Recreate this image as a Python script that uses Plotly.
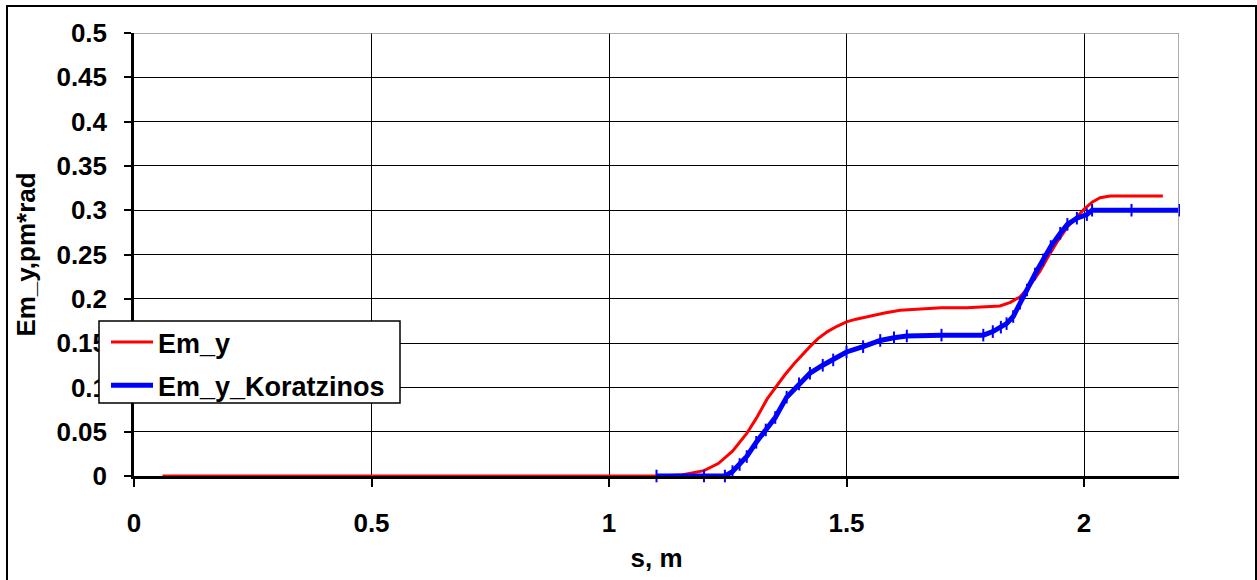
import plotly.graph_objects as go

# Emittance growth along the beamline
s_em = [0.06, 0.5, 1.0, 1.1, 1.15, 1.2, 1.23, 1.26, 1.29, 1.31, 1.333, 1.35, 1.37, 1.39,
        1.41, 1.423, 1.44, 1.46, 1.48, 1.5, 1.52, 1.543, 1.58, 1.613, 1.66, 1.70, 1.753,
        1.78, 1.823, 1.845, 1.865, 1.885, 1.907, 1.925, 1.943, 1.965, 1.985, 2.0, 2.017,
        2.034, 2.055, 2.08, 2.12, 2.166]
em_y = [0, 0, 0, 0, 0.001, 0.006, 0.014, 0.028, 0.048, 0.065, 0.087, 0.100, 0.114, 0.127,
        0.139, 0.146, 0.155, 0.163, 0.169, 0.174, 0.177, 0.180, 0.184, 0.187, 0.189, 0.190,
        0.190, 0.191, 0.192, 0.196, 0.202, 0.214, 0.231, 0.248, 0.264, 0.281, 0.293, 0.301,
        0.309, 0.314, 0.316, 0.316, 0.316, 0.316]

s_kor = [1.10, 1.20, 1.244, 1.26, 1.275, 1.29, 1.31, 1.33, 1.35, 1.374, 1.40, 1.423,
         1.45, 1.472, 1.5, 1.535, 1.571, 1.60, 1.627, 1.70, 1.788, 1.808, 1.825, 1.837,
         1.851, 1.865, 1.88, 1.897, 1.914, 1.93, 1.95, 1.965, 1.985, 2.006, 2.017,
         2.10, 2.2]
em_y_kor = [0, 0, 0, 0.005, 0.013, 0.022, 0.038, 0.052, 0.066, 0.089, 0.104, 0.116,
            0.125, 0.131, 0.140, 0.146, 0.153, 0.156, 0.158, 0.159, 0.159, 0.163, 0.168,
            0.172, 0.180, 0.195, 0.210, 0.228, 0.244, 0.259, 0.274, 0.284, 0.291, 0.295,
            0.300, 0.300, 0.300]

x_ticks = [0, 0.5, 1, 1.5, 2]
x_labels = ["0", "0.5", "1", "1.5", "2"]
y_ticks = [0, 0.05, 0.1, 0.15, 0.2, 0.25, 0.3, 0.35, 0.4, 0.45, 0.5]
y_labels = ["0", "0.05", "0.1", "0.15", "0.2", "0.25", "0.3", "0.35", "0.4", "0.45", "0.5"]

FONT = "Liberation Sans, Arial, sans-serif"
BOLD = dict(family=FONT, size=26, color="black", weight="bold")
LEG = dict(family=FONT, size=27, color="black", weight="bold")

# plot-area geometry in pixels, used to place the legend frame and outer border
L, R, T, B = 134, 1179, 33, 476
W, H = R - L, B - T


def px(xp):
    return (xp - L) / W


def py(yp):
    return (B - yp) / H


fig = go.Figure()
fig.add_trace(go.Scatter(
    x=s_em, y=em_y, name="Em_y", mode="lines", legendgroup="a",
    line=dict(color="#ff0000", width=3), cliponaxis=False,
))
fig.add_trace(go.Scatter(
    x=s_kor, y=em_y_kor, name="Em_y_Koratzinos", mode="lines", legendgroup="b",
    line=dict(color="#0000ff", width=5), cliponaxis=False,
))
# small dash markers along the Koratzinos curve
fig.add_trace(go.Scatter(
    x=s_kor, y=em_y_kor, mode="markers", showlegend=False, hoverinfo="skip",
    marker=dict(symbol="line-ns", size=9, color="#0000ff",
                line=dict(color="#0000ff", width=2)),
    cliponaxis=False,
))

fig.update_layout(
    width=1257, height=580,
    margin=dict(l=L, r=1257 - R, t=T, b=580 - B),
    paper_bgcolor="white", plot_bgcolor="white",
    font=BOLD,
    showlegend=True,
    legend=dict(
        x=px(106), y=py(318), xanchor="left", yanchor="top",
        bgcolor="rgba(0,0,0,0)", borderwidth=0,
        font=LEG, itemwidth=42, tracegroupgap=5, traceorder="grouped",
    ),
    xaxis=dict(
        range=[0, 2.2], tickvals=x_ticks, ticktext=x_labels, automargin=False,
        showgrid=True, gridcolor="black", gridwidth=1,
        showline=True, linecolor="black", linewidth=2.5, mirror=False,
        ticks="outside", ticklen=8, tickwidth=2, tickcolor="black",
        tickfont=BOLD, ticklabelstandoff=14,
        title=dict(text="s, m", standoff=12, font=BOLD),
        zeroline=False,
    ),
    yaxis=dict(
        range=[0, 0.5], tickvals=y_ticks, ticktext=y_labels, automargin=False,
        showgrid=True, gridcolor="black", gridwidth=1,
        showline=True, linecolor="black", linewidth=2.5, mirror=False,
        ticks="outside", ticklen=7, tickwidth=2, tickcolor="black",
        tickfont=BOLD, ticklabelstandoff=12,
        title=dict(text="Em_y,pm*rad", standoff=14, font=BOLD),
        zeroline=False,
    ),
    shapes=[
        # grey frame on the top and right of the plot area
        dict(type="line", xref="x", yref="y", x0=0, x1=2.2, y0=0.5, y1=0.5,
             line=dict(color="#909090", width=1.5)),
        dict(type="line", xref="x", yref="y", x0=2.2, x1=2.2, y0=0, y1=0.5,
             line=dict(color="#909090", width=1.5)),
        # legend frame
        dict(type="rect", xref="paper", yref="paper",
             x0=px(99), x1=px(400), y0=py(403), y1=py(321),
             fillcolor="white", line=dict(color="black", width=1.5), layer="above"),
        # outer chart border
        dict(type="rect", xref="paper", yref="paper",
             x0=px(7), x1=px(1256), y0=py(590), y1=py(6),
             line=dict(color="black", width=2), layer="below"),
    ],
)

fig.write_html("out.html")
